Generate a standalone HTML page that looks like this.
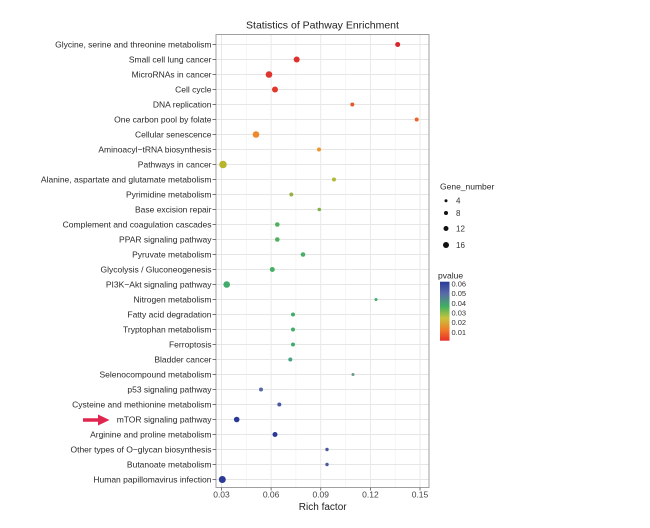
<!DOCTYPE html>
<html><head><meta charset="utf-8"><style>
html,body{margin:0;padding:0;background:#fff;}
svg{display:block;font-family:"Liberation Sans",Arial,sans-serif;}
</style></head><body>
<svg width="650" height="528" viewBox="0 0 650 528" xmlns="http://www.w3.org/2000/svg">
<defs>
<linearGradient id="pg" x1="0" y1="1" x2="0" y2="0">
<stop offset="0" stop-color="#e8302a"/>
<stop offset="0.18" stop-color="#f07a2a"/>
<stop offset="0.38" stop-color="#c8c43a"/>
<stop offset="0.58" stop-color="#40b060"/>
<stop offset="0.8" stop-color="#5a6aa8"/>
<stop offset="1" stop-color="#2a3a98"/>
</linearGradient>
</defs>
<rect width="650" height="528" fill="#fff"/>
<text x="322.5" y="28.5" font-size="10.5" text-anchor="middle" fill="#222">Statistics of Pathway Enrichment</text>
<!-- panel -->
<rect x="216" y="34.5" width="213" height="453" fill="#fff"/>
<g stroke="#f0f0f0" stroke-width="0.6">
<line x1="246.3" y1="34.5" x2="246.3" y2="487.5"/>
<line x1="295.9" y1="34.5" x2="295.9" y2="487.5"/>
<line x1="345.6" y1="34.5" x2="345.6" y2="487.5"/>
<line x1="395.2" y1="34.5" x2="395.2" y2="487.5"/>
</g>
<g stroke="#e6e6e6" stroke-width="0.9">
<line x1="221.5" y1="34.5" x2="221.5" y2="487.5"/>
<line x1="271.1" y1="34.5" x2="271.1" y2="487.5"/>
<line x1="320.75" y1="34.5" x2="320.75" y2="487.5"/>
<line x1="370.4" y1="34.5" x2="370.4" y2="487.5"/>
<line x1="420" y1="34.5" x2="420" y2="487.5"/>
</g>
<g id="hg" stroke="#e6e6e6" stroke-width="0.9">
<line x1="216" x2="429" y1="44.5" y2="44.5"/><line x1="216" x2="429" y1="59.5" y2="59.5"/><line x1="216" x2="429" y1="74.5" y2="74.5"/><line x1="216" x2="429" y1="89.5" y2="89.5"/><line x1="216" x2="429" y1="104.5" y2="104.5"/><line x1="216" x2="429" y1="119.5" y2="119.5"/><line x1="216" x2="429" y1="134.5" y2="134.5"/><line x1="216" x2="429" y1="149.5" y2="149.5"/><line x1="216" x2="429" y1="164.5" y2="164.5"/><line x1="216" x2="429" y1="179.5" y2="179.5"/>
<line x1="216" x2="429" y1="194.5" y2="194.5"/><line x1="216" x2="429" y1="209.5" y2="209.5"/><line x1="216" x2="429" y1="224.5" y2="224.5"/><line x1="216" x2="429" y1="239.5" y2="239.5"/><line x1="216" x2="429" y1="254.5" y2="254.5"/><line x1="216" x2="429" y1="269.5" y2="269.5"/><line x1="216" x2="429" y1="284.5" y2="284.5"/><line x1="216" x2="429" y1="299.5" y2="299.5"/><line x1="216" x2="429" y1="314.5" y2="314.5"/><line x1="216" x2="429" y1="329.5" y2="329.5"/>
<line x1="216" x2="429" y1="344.5" y2="344.5"/><line x1="216" x2="429" y1="359.5" y2="359.5"/><line x1="216" x2="429" y1="374.5" y2="374.5"/><line x1="216" x2="429" y1="389.5" y2="389.5"/><line x1="216" x2="429" y1="404.5" y2="404.5"/><line x1="216" x2="429" y1="419.5" y2="419.5"/><line x1="216" x2="429" y1="434.5" y2="434.5"/><line x1="216" x2="429" y1="449.5" y2="449.5"/><line x1="216" x2="429" y1="464.5" y2="464.5"/><line x1="216" x2="429" y1="479.5" y2="479.5"/>
</g>
<!-- points -->
<g>
<circle cx="397.7" cy="44.5" r="2.5" fill="#d8262e"/>
<circle cx="296.7" cy="59.5" r="3" fill="#e0302c"/>
<circle cx="269" cy="74.5" r="3.3" fill="#e0352e"/>
<circle cx="275" cy="89.5" r="3" fill="#e0382c"/>
<circle cx="352.3" cy="104.5" r="2" fill="#e45a2a"/>
<circle cx="416.7" cy="119.5" r="2" fill="#e8662a"/>
<circle cx="256" cy="134.5" r="3.3" fill="#ee8a2c"/>
<circle cx="319" cy="149.5" r="2" fill="#f0962a"/>
<circle cx="223" cy="164.5" r="3.8" fill="#b8b42c"/>
<circle cx="334" cy="179.5" r="2" fill="#b2b83a"/>
<circle cx="291.3" cy="194.5" r="2" fill="#98b044"/>
<circle cx="319.3" cy="209.5" r="1.8" fill="#84b04c"/>
<circle cx="277.3" cy="224.5" r="2.3" fill="#50b060"/>
<circle cx="277.3" cy="239.5" r="2.3" fill="#50b060"/>
<circle cx="303" cy="254.5" r="2.3" fill="#48b066"/>
<circle cx="272.3" cy="269.5" r="2.5" fill="#48b066"/>
<circle cx="226.7" cy="284.5" r="3.3" fill="#42ac6c"/>
<circle cx="376" cy="299.5" r="1.5" fill="#42ac6c"/>
<circle cx="293" cy="314.5" r="2" fill="#42ac6c"/>
<circle cx="293" cy="329.5" r="2" fill="#42ac6c"/>
<circle cx="293" cy="344.5" r="2" fill="#42ac70"/>
<circle cx="290.3" cy="359.5" r="2" fill="#44a484"/>
<circle cx="353" cy="374.5" r="1.5" fill="#6a9a8a"/>
<circle cx="261" cy="389.5" r="2" fill="#5a6aa8"/>
<circle cx="279.3" cy="404.5" r="2" fill="#4a58a4"/>
<circle cx="236.7" cy="419.5" r="2.8" fill="#2a3a96"/>
<circle cx="275" cy="434.5" r="2.5" fill="#2a3a96"/>
<circle cx="327" cy="449.5" r="1.7" fill="#4a5a9a"/>
<circle cx="327" cy="464.5" r="1.7" fill="#4a5a9a"/>
<circle cx="222.3" cy="479.5" r="3.5" fill="#2a3a96"/>
</g>
<rect x="216" y="34.5" width="213" height="453" fill="none" stroke="#a0a0a0" stroke-width="1"/>
<!-- y ticks -->
<g stroke="#555" stroke-width="0.8">
<line x1="212.5" x2="216" y1="44.5" y2="44.5"/><line x1="212.5" x2="216" y1="59.5" y2="59.5"/><line x1="212.5" x2="216" y1="74.5" y2="74.5"/><line x1="212.5" x2="216" y1="89.5" y2="89.5"/><line x1="212.5" x2="216" y1="104.5" y2="104.5"/><line x1="212.5" x2="216" y1="119.5" y2="119.5"/><line x1="212.5" x2="216" y1="134.5" y2="134.5"/><line x1="212.5" x2="216" y1="149.5" y2="149.5"/><line x1="212.5" x2="216" y1="164.5" y2="164.5"/><line x1="212.5" x2="216" y1="179.5" y2="179.5"/>
<line x1="212.5" x2="216" y1="194.5" y2="194.5"/><line x1="212.5" x2="216" y1="209.5" y2="209.5"/><line x1="212.5" x2="216" y1="224.5" y2="224.5"/><line x1="212.5" x2="216" y1="239.5" y2="239.5"/><line x1="212.5" x2="216" y1="254.5" y2="254.5"/><line x1="212.5" x2="216" y1="269.5" y2="269.5"/><line x1="212.5" x2="216" y1="284.5" y2="284.5"/><line x1="212.5" x2="216" y1="299.5" y2="299.5"/><line x1="212.5" x2="216" y1="314.5" y2="314.5"/><line x1="212.5" x2="216" y1="329.5" y2="329.5"/>
<line x1="212.5" x2="216" y1="344.5" y2="344.5"/><line x1="212.5" x2="216" y1="359.5" y2="359.5"/><line x1="212.5" x2="216" y1="374.5" y2="374.5"/><line x1="212.5" x2="216" y1="389.5" y2="389.5"/><line x1="212.5" x2="216" y1="404.5" y2="404.5"/><line x1="212.5" x2="216" y1="419.5" y2="419.5"/><line x1="212.5" x2="216" y1="434.5" y2="434.5"/><line x1="212.5" x2="216" y1="449.5" y2="449.5"/><line x1="212.5" x2="216" y1="464.5" y2="464.5"/><line x1="212.5" x2="216" y1="479.5" y2="479.5"/>
</g>
<g font-size="8.5" fill="#2a2a2a" text-anchor="end">
<text x="211.5" y="47.5">Glycine, serine and threonine metabolism</text>
<text x="211.5" y="62.5">Small cell lung cancer</text>
<text x="211.5" y="77.5">MicroRNAs in cancer</text>
<text x="211.5" y="92.5">Cell cycle</text>
<text x="211.5" y="107.5">DNA replication</text>
<text x="211.5" y="122.5">One carbon pool by folate</text>
<text x="211.5" y="137.5">Cellular senescence</text>
<text x="211.5" y="152.5">Aminoacyl−tRNA biosynthesis</text>
<text x="211.5" y="167.5">Pathways in cancer</text>
<text x="211.5" y="182.5">Alanine, aspartate and glutamate metabolism</text>
<text x="211.5" y="197.5">Pyrimidine metabolism</text>
<text x="211.5" y="212.5">Base excision repair</text>
<text x="211.5" y="227.5">Complement and coagulation cascades</text>
<text x="211.5" y="242.5">PPAR signaling pathway</text>
<text x="211.5" y="257.5">Pyruvate metabolism</text>
<text x="211.5" y="272.5">Glycolysis / Gluconeogenesis</text>
<text x="211.5" y="287.5">PI3K−Akt signaling pathway</text>
<text x="211.5" y="302.5">Nitrogen metabolism</text>
<text x="211.5" y="317.5">Fatty acid degradation</text>
<text x="211.5" y="332.5">Tryptophan metabolism</text>
<text x="211.5" y="347.5">Ferroptosis</text>
<text x="211.5" y="362.5">Bladder cancer</text>
<text x="211.5" y="377.5">Selenocompound metabolism</text>
<text x="211.5" y="392.5">p53 signaling pathway</text>
<text x="211.5" y="407.5">Cysteine and methionine metabolism</text>
<text x="211.5" y="422.5">mTOR signaling pathway</text>
<text x="211.5" y="437.5">Arginine and proline metabolism</text>
<text x="211.5" y="452.5">Other types of O−glycan biosynthesis</text>
<text x="211.5" y="467.5">Butanoate metabolism</text>
<text x="211.5" y="482.5">Human papillomavirus infection</text>
</g>
<!-- x ticks -->
<g stroke="#555" stroke-width="0.8">
<line x1="221.5" x2="221.5" y1="487.5" y2="490.5"/>
<line x1="271.1" x2="271.1" y1="487.5" y2="490.5"/>
<line x1="320.75" x2="320.75" y1="487.5" y2="490.5"/>
<line x1="370.4" x2="370.4" y1="487.5" y2="490.5"/>
<line x1="420" x2="420" y1="487.5" y2="490.5"/>
</g>
<g font-size="8.5" fill="#444" text-anchor="middle">
<text x="221.5" y="497.5">0.03</text>
<text x="271.1" y="497.5">0.06</text>
<text x="320.75" y="497.5">0.09</text>
<text x="370.4" y="497.5">0.12</text>
<text x="420" y="497.5">0.15</text>
</g>
<text x="322.7" y="510" font-size="10" text-anchor="middle" fill="#222">Rich factor</text>
<!-- legend size -->
<text x="440" y="189.5" font-size="8.5" fill="#2a2a2a">Gene_number</text>
<circle cx="446" cy="200.7" r="1.5" fill="#111"/>
<circle cx="446" cy="213" r="2" fill="#111"/>
<circle cx="446" cy="228.5" r="2.5" fill="#111"/>
<circle cx="446" cy="245" r="3" fill="#111"/>
<g font-size="8" fill="#333">
<text x="456" y="203.5">4</text>
<text x="456" y="216">8</text>
<text x="456" y="231.5">12</text>
<text x="456" y="248">16</text>
</g>
<!-- legend colour -->
<text x="438" y="278.5" font-size="8.5" fill="#2a2a2a">pvalue</text>
<rect x="440" y="281.7" width="9.5" height="59" fill="url(#pg)"/>
<g font-size="7.5" fill="#333">
<text x="451.5" y="286.5">0.06</text>
<text x="451.5" y="296.2">0.05</text>
<text x="451.5" y="305.8">0.04</text>
<text x="451.5" y="315.5">0.03</text>
<text x="451.5" y="325.2">0.02</text>
<text x="451.5" y="334.8">0.01</text>
</g>
<!-- arrow -->
<line x1="83" y1="420" x2="100" y2="420" stroke="#e0264f" stroke-width="3.5"/>
<polygon points="98,414.5 109.5,420 98,425.5" fill="#e0264f"/>
</svg>
</body></html>
